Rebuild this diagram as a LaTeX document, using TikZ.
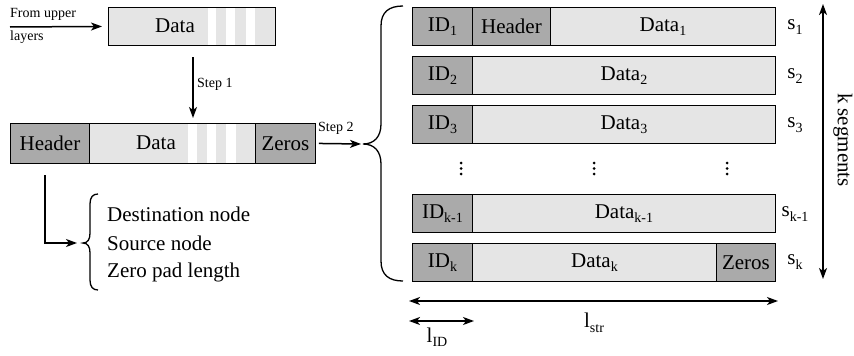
\documentclass[tikz,border=0pt]{standalone}
\usepackage{fontspec}
\setmainfont{Liberation Serif}
\usetikzlibrary{arrows.meta}
\definecolor{cellDark}{RGB}{170,170,170}
\definecolor{cellLight}{RGB}{229,229,229}
\newcommand\bigtxt{\fontsize{21}{24}\selectfont}
\newcommand\smalltxt{\fontsize{14}{16}\selectfont}
\newcommand\lowidx[1]{\raisebox{-4.5pt}{\fontsize{14}{14}\selectfont #1}}

\begin{document}
\begin{tikzpicture}[x=1pt,y=-1pt,
  cell/.style={draw=black, line width=0.9pt, inner sep=0pt, anchor=north west, font=\bigtxt},
  dark/.style={cell, fill=cellDark},
  light/.style={cell, fill=cellLight},
  outline/.style={draw=black, line width=0.9pt},
  txt/.style={inner sep=0pt, font=\bigtxt},
  small/.style={inner sep=0pt, font=\smalltxt, anchor=west},
  dot/.style={circle, fill=black, inner sep=0pt, minimum size=3pt},
  arr/.style={line width=1.5pt, -{Stealth[length=11pt,width=8pt,inset=3pt]}},
  dbl/.style={line width=1.5pt, {Stealth[length=11pt,width=8pt,inset=3pt]}-{Stealth[length=11pt,width=8pt,inset=3pt]}},
  brace/.style={line width=1.3pt}
]
\useasboundingbox (0,0) rectangle (854,356);

% incoming data block
\node[light, minimum width=167pt, minimum height=38pt] (top) at (108,7) {};
\foreach \a/\b in {208/216, 226/235, 246/255}
  \fill[white] (\a,7.5) rectangle (\b,44.5);
\draw[outline] (top.north west) rectangle (top.south east);
\node[txt] (topdata) at (175,26) {Data};

\coordinate (inlet) at (10,27);
\draw[arr] (inlet) -- ([xshift=-6pt]top.west);
\node[small] (from1) at (10,14) {From upper};
\node[small] (from2) at (10,37) {layers};

% step 1
\coordinate (st1a) at (193,57);
\coordinate (st1b) at (193,118);
\draw[arr] (st1a) -- (st1b);
\node[small] (step1) at (197,84) {Step 1};

% framed packet
\node[dark, minimum width=79pt, minimum height=40pt] (hdr) at (10,123) {Header};
\node[light, minimum width=166pt, minimum height=40pt] (pdata) at (89,123) {};
\foreach \a/\b in {188/197, 207/216, 226/236}
  \fill[white] (\a,123.5) rectangle (\b,162.5);
\draw[outline] (pdata.north west) rectangle (pdata.south east);
\node[txt] (pdatatxt) at (156,143) {Data};
\node[dark, minimum width=60pt, minimum height=40pt] (zer) at (255,123) {Zeros};

% step 2
\coordinate (st2b) at (361,144);
\draw[arr] ([xshift=3pt]zer.east) -- (st2b);
\node[small] (step2) at (318,128) {Step 2};

% big brace
\coordinate (bbTop) at (403,6);
\coordinate (bbTip) at (363,144);
\coordinate (bbBot) at (403,281);
\draw[brace] (bbTop) .. controls (389,6) and (381,12) .. (381,26) -- (381,124)
  .. controls (381,137) and (374,144) .. (bbTip)
  .. controls (374,144) and (381,151) .. (381,164) -- (381,261)
  .. controls (381,275) and (389,281) .. (bbBot);

% header contents
\coordinate (hdrOut) at (45,175);
\coordinate (hdrIn) at (77,243);
\draw[arr] (hdrOut) |- (hdrIn);
\coordinate (sbTop) at (98,194);
\coordinate (sbTip) at (83,243);
\coordinate (sbBot) at (98,290);
\draw[brace] (sbTop) .. controls (93,194) and (90,197) .. (90,204) -- (90,233)
  .. controls (90,239) and (88,243) .. (sbTip)
  .. controls (88,243) and (90,247) .. (90,253) -- (90,280)
  .. controls (90,287) and (93,290) .. (sbBot);
\node[txt, anchor=west] (dst) at (107,214) {Destination node};
\node[txt, anchor=west] (src) at (107,243) {Source node};
\node[txt, anchor=west] (zpl) at (107,272) {Zero pad length};

% segments
\node[dark, minimum width=60pt, minimum height=38pt] (id1) at (412,7) {ID\lowidx{1}};
\node[dark, minimum width=78pt, minimum height=38pt] (h1) at (472,7) {Header};
\node[light, minimum width=225pt, minimum height=38pt] (d1) at (550,7) {Data\lowidx{1}};

\node[dark, minimum width=60pt, minimum height=38pt] (id2) at (412,56) {ID\lowidx{2}};
\node[light, minimum width=303pt, minimum height=38pt] (d2) at (472,56) {Data\lowidx{2}};

\node[dark, minimum width=60pt, minimum height=38pt] (id3) at (412,105) {ID\lowidx{3}};
\node[light, minimum width=303pt, minimum height=38pt] (d3) at (472,105) {Data\lowidx{3}};

% continuation dots
\foreach \x/\n in {461/a, 594/b, 727/c}
  \foreach \y/\m in {163/1, 168.5/2, 174/3}
    \node[dot] (dot\n\m) at (\x,\y) {};

\node[dark, minimum width=60pt, minimum height=38pt] (idk1) at (412,194) {ID\lowidx{k-1}};
\node[light, minimum width=303pt, minimum height=38pt] (dk1) at (472,194) {Data\lowidx{k-1}};

\node[dark, minimum width=60pt, minimum height=38pt] (idk) at (412,243) {ID\lowidx{k}};
\node[light, minimum width=244pt, minimum height=38pt] (dk) at (472,243) {Data\lowidx{k}};
\node[dark, minimum width=59pt, minimum height=38pt] (zk) at (716,243) {Zeros};

% segment labels
\node[txt] (s1) at (795,27) {s\lowidx{1}};
\node[txt] (s2) at (795,76) {s\lowidx{2}};
\node[txt] (s3) at (795,125) {s\lowidx{3}};
\node[txt] (sk1) at (795,214) {s\lowidx{k-1}};
\node[txt] (sk) at (795,262) {s\lowidx{k}};

% segment count
\coordinate (kTop) at (823,4);
\coordinate (kBot) at (823,279);
\draw[dbl] (kTop) -- (kBot);
\node[txt, rotate=-90] (kseg) at (843,140) {k segments};

% lengths
\coordinate (lsA) at (409,301);
\coordinate (lsB) at (778,301);
\draw[dbl] (lsA) -- (lsB);
\node[txt] (lstr) at (594,323) {l\lowidx{str}};
\coordinate (liA) at (409,321);
\coordinate (liB) at (474,321);
\draw[dbl] (liA) -- (liB);
\node[txt] (lid) at (437,337) {l\lowidx{ID}};
\end{tikzpicture}
\end{document}
